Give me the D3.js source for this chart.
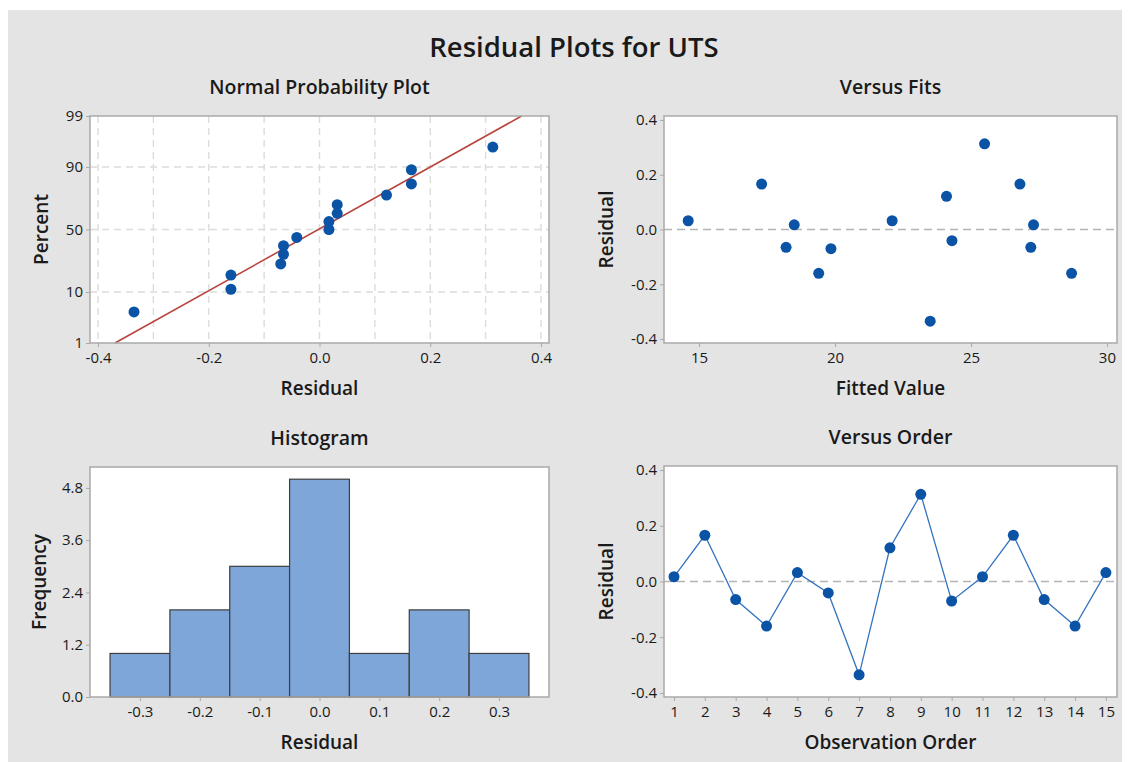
<!DOCTYPE html>
<html>
<head>
<meta charset="utf-8">
<script src="https://cdn.jsdelivr.net/npm/d3@7"></script>
<style>
  html, body { margin: 0; padding: 0; background: #ffffff; }
  svg { display: block; font-family: "Open Sans", "Noto Sans", sans-serif; }
</style>
</head>
<body>
<svg id="chart" width="1131" height="762"></svg>
<script>
// Residuals of the UTS model, in observation order
const observationOrder = [1, 2, 3, 4, 5, 6, 7, 8, 9, 10, 11, 12, 13, 14, 15];
const residuals = [0.017, 0.166, -0.065, -0.160, 0.032, -0.041, -0.335, 0.121, 0.313, -0.070, 0.017, 0.166, -0.065, -0.160, 0.032];
const fittedValues = [18.5, 17.3, 18.2, 19.4, 14.6, 24.3, 23.5, 24.1, 25.5, 19.85, 27.3, 26.8, 27.2, 28.7, 22.1];

// Histogram bins (width 0.1) and their counts
const binStarts = [-0.35, -0.25, -0.15, -0.05, 0.05, 0.15, 0.25];
const binCounts = [1, 2, 3, 5, 1, 2, 1];

// Tick values
const probTicks = [1, 10, 50, 90, 99];
const probXTicks = [-0.4, -0.2, 0.0, 0.2, 0.4];
const probXGrid = [-0.4, -0.3, -0.2, -0.1, 0.0, 0.1, 0.2, 0.3, 0.4];
const probYGrid = [10, 50, 90];
const residTicks = [-0.4, -0.2, 0.0, 0.2, 0.4];
const fitTicks = [15, 20, 25, 30];
const histXTicks = [-0.3, -0.2, -0.1, 0.0, 0.1, 0.2, 0.3];
const histYTicks = [0.0, 1.2, 2.4, 3.6, 4.8];

const svg = d3.select("#chart");
const C = {
  bg: "#e4e4e4", frame: "#a9a9a9", dot: "#0a53a5", fitLine: "#b8453e",
  grid: "#dcdcdc", ref: "#b4b4b4", bar: "#7ea6d9", barStroke: "#3e3e3e",
  orderLine: "#3473bf", text: "#1a1a1a"
};
const FONT = "\"Open Sans\", \"Noto Sans\", sans-serif";

// plain hyphen for negative numbers
const locale = d3.formatLocale({ decimal: ".", thousands: ",", grouping: [3], currency: ["", ""], minus: "-" });
const f1 = locale.format(".1f");
const fInt = locale.format("d");

svg.append("rect").attr("x", 8).attr("y", 10).attr("width", 1114).attr("height", 752).attr("fill", C.bg);

svg.append("text").attr("x", 574).attr("y", 57).attr("text-anchor", "middle")
  .attr("font-size", 27.5).attr("font-weight", 600).attr("fill", C.text).text("Residual Plots for UTS");

const panels = {
  prob:  { x0: 90,  x1: 549,  y0: 116, y1: 343 },
  fits:  { x0: 664, x1: 1117, y0: 116, y1: 343 },
  hist:  { x0: 90,  x1: 549,  y0: 467, y1: 697 },
  order: { x0: 664, x1: 1117, y0: 466, y1: 697 }
};

function panelFrame(p, title, xLabel, yLabel, yLabelX) {
  svg.append("rect").attr("x", p.x0).attr("y", p.y0).attr("width", p.x1 - p.x0).attr("height", p.y1 - p.y0)
    .attr("fill", "#ffffff");
  svg.append("text").attr("x", (p.x0 + p.x1) / 2).attr("y", p.y0 - 22).attr("text-anchor", "middle")
    .attr("font-size", 19.5).attr("font-weight", 600).attr("fill", C.text).text(title);
  svg.append("text").attr("x", (p.x0 + p.x1) / 2).attr("y", p.y1 + 52).attr("text-anchor", "middle")
    .attr("font-size", 19).attr("font-weight", 600).attr("fill", C.text).text(xLabel);
  svg.append("text").attr("transform", `translate(${yLabelX},${(p.y0 + p.y1) / 2}) rotate(-90)`)
    .attr("text-anchor", "middle").attr("font-size", 19).attr("font-weight", 600).attr("fill", C.text).text(yLabel);
}

function drawBorder(p) {
  svg.append("rect").attr("x", p.x0).attr("y", p.y0).attr("width", p.x1 - p.x0).attr("height", p.y1 - p.y0)
    .attr("fill", "none").attr("stroke", C.frame).attr("stroke-width", 1.5);
}

function styleAxis(a) {
  a.select(".domain").remove();
  a.selectAll(".tick line").attr("stroke", C.frame).attr("stroke-width", 1);
  a.selectAll(".tick text").attr("font-size", 15).attr("fill", C.text).attr("font-family", FONT);
}

function drawAxes(p, xScale, yScale, xTicks, yTicks, xFmt, yFmt) {
  const xa = d3.axisBottom(xScale).tickValues(xTicks).tickSize(4).tickPadding(5).tickFormat(xFmt);
  const ya = d3.axisLeft(yScale).tickValues(yTicks).tickSize(4).tickPadding(3).tickFormat(yFmt);
  styleAxis(svg.append("g").attr("transform", `translate(0,${p.y1})`).call(xa));
  styleAxis(svg.append("g").attr("transform", `translate(${p.x0},0)`).call(ya));
}

// inverse normal CDF (Acklam approximation)
function probit(q) {
  const a = [-39.6968302866538, 220.946098424521, -275.928510446969, 138.357751867269, -30.6647980661472, 2.50662827745924];
  const b = [-54.4760987982241, 161.585836858041, -155.698979859887, 66.8013118877197, -13.2806815528857];
  const c = [-0.00778489400243029, -0.322396458041136, -2.40075827716184, -2.54973253934373, 4.37466414146497, 2.93816398269878];
  const d = [0.00778469570904146, 0.32246712907004, 2.445134137143, 3.75440866190742];
  const pl = 0.02425;
  if (q < pl) { const t = Math.sqrt(-2 * Math.log(q));
    return (((((c[0]*t+c[1])*t+c[2])*t+c[3])*t+c[4])*t+c[5]) / ((((d[0]*t+d[1])*t+d[2])*t+d[3])*t+1); }
  if (q > 1 - pl) { const t = Math.sqrt(-2 * Math.log(1 - q));
    return -(((((c[0]*t+c[1])*t+c[2])*t+c[3])*t+c[4])*t+c[5]) / ((((d[0]*t+d[1])*t+d[2])*t+d[3])*t+1); }
  const t = q - 0.5, r = t * t;
  return (((((a[0]*r+a[1])*r+a[2])*r+a[3])*r+a[4])*r+a[5])*t / (((((b[0]*r+b[1])*r+b[2])*r+b[3])*r+b[4])*r+1);
}

// ---------- Normal probability plot ----------
{
  const p = panels.prob;
  panelFrame(p, "Normal Probability Plot", "Residual", "Percent", 48);
  const x = d3.scaleLinear().domain([-0.4145, 0.4145]).range([p.x0, p.x1]);
  const zScale = d3.scaleLinear().domain([probit(0.01), probit(0.99)]).range([p.y1, p.y0]);
  const y = pct => zScale(probit(pct / 100));

  const g = svg.append("g");
  g.selectAll(".vg").data(probXGrid).join("line")
    .attr("x1", d => x(d)).attr("x2", d => x(d)).attr("y1", p.y0).attr("y2", p.y1)
    .attr("stroke", C.grid).attr("stroke-width", 1.4).attr("stroke-dasharray", "7,5");
  g.selectAll(".hg").data(probYGrid).join("line")
    .attr("x1", p.x0).attr("x2", p.x1).attr("y1", d => y(d)).attr("y2", d => y(d))
    .attr("stroke", C.grid).attr("stroke-width", 1.4).attr("stroke-dasharray", "7,5");

  // fitted normal line from the sample mean and standard deviation
  const mean = d3.mean(residuals), sd = d3.deviation(residuals);
  const [zLo, zHi] = zScale.domain();
  g.append("line")
    .attr("x1", x(mean + zLo * sd)).attr("y1", zScale(zLo))
    .attr("x2", x(mean + zHi * sd)).attr("y2", zScale(zHi))
    .attr("stroke", C.fitLine).attr("stroke-width", 1.6);

  // median ranks for plotting positions
  const sorted = residuals.slice().sort(d3.ascending);
  const n = sorted.length;
  g.selectAll("circle").data(sorted).join("circle")
    .attr("cx", d => x(d)).attr("cy", (d, i) => y(100 * (i + 1 - 0.3) / (n + 0.4)))
    .attr("r", 5.5).attr("fill", C.dot);

  drawBorder(p);
  const ya = d3.axisLeft(zScale).tickValues(probTicks.map(t => probit(t / 100)))
    .tickSize(4).tickPadding(3).tickFormat((d, i) => probTicks[i]);
  const xa = d3.axisBottom(x).tickValues(probXTicks).tickSize(4).tickPadding(5).tickFormat(f1);
  styleAxis(svg.append("g").attr("transform", `translate(0,${p.y1})`).call(xa));
  styleAxis(svg.append("g").attr("transform", `translate(${p.x0},0)`).call(ya));
}

// ---------- Versus fits ----------
{
  const p = panels.fits;
  panelFrame(p, "Versus Fits", "Fitted Value", "Residual", 613);
  const x = d3.scaleLinear().domain([13.71, 30.37]).range([p.x0, p.x1]);
  const y = d3.scaleLinear().domain([-0.4145, 0.4145]).range([p.y1, p.y0]);
  svg.append("line").attr("x1", p.x0).attr("x2", p.x1).attr("y1", y(0)).attr("y2", y(0))
    .attr("stroke", C.ref).attr("stroke-width", 1.6).attr("stroke-dasharray", "8,5");
  svg.append("g").selectAll("circle").data(residuals).join("circle")
    .attr("cx", (d, i) => x(fittedValues[i])).attr("cy", d => y(d))
    .attr("r", 5.5).attr("fill", C.dot);
  drawBorder(p);
  drawAxes(p, x, y, fitTicks, residTicks, fInt, f1);
}

// ---------- Histogram ----------
{
  const p = panels.hist;
  panelFrame(p, "Histogram", "Residual", "Frequency", 46);
  const x = d3.scaleLinear().domain([-0.3835, 0.3835]).range([p.x0, p.x1]);
  const y = d3.scaleLinear().domain([0, 5.28]).range([p.y1, p.y0]);
  svg.append("g").selectAll("rect").data(binCounts).join("rect")
    .attr("x", (d, i) => x(binStarts[i])).attr("width", (d, i) => x(binStarts[i] + 0.1) - x(binStarts[i]))
    .attr("y", d => y(d)).attr("height", d => y(0) - y(d))
    .attr("fill", C.bar).attr("stroke", C.barStroke).attr("stroke-width", 1.2);
  drawBorder(p);
  drawAxes(p, x, y, histXTicks, histYTicks, f1, f1);
}

// ---------- Versus order ----------
{
  const p = panels.order;
  panelFrame(p, "Versus Order", "Observation Order", "Residual", 613);
  const x = d3.scaleLinear().domain([0.676, 15.36]).range([p.x0, p.x1]);
  const y = d3.scaleLinear().domain([-0.4145, 0.4145]).range([p.y1, p.y0]);
  svg.append("line").attr("x1", p.x0).attr("x2", p.x1).attr("y1", y(0)).attr("y2", y(0))
    .attr("stroke", C.ref).attr("stroke-width", 1.6).attr("stroke-dasharray", "8,5");
  const line = d3.line().x((d, i) => x(observationOrder[i])).y(d => y(d));
  svg.append("path").datum(residuals).attr("d", line)
    .attr("fill", "none").attr("stroke", C.orderLine).attr("stroke-width", 1.3);
  svg.append("g").selectAll("circle").data(residuals).join("circle")
    .attr("cx", (d, i) => x(observationOrder[i])).attr("cy", d => y(d))
    .attr("r", 5.5).attr("fill", C.dot);
  drawBorder(p);
  drawAxes(p, x, y, observationOrder, residTicks, fInt, f1);
}
</script>
</body>
</html>
